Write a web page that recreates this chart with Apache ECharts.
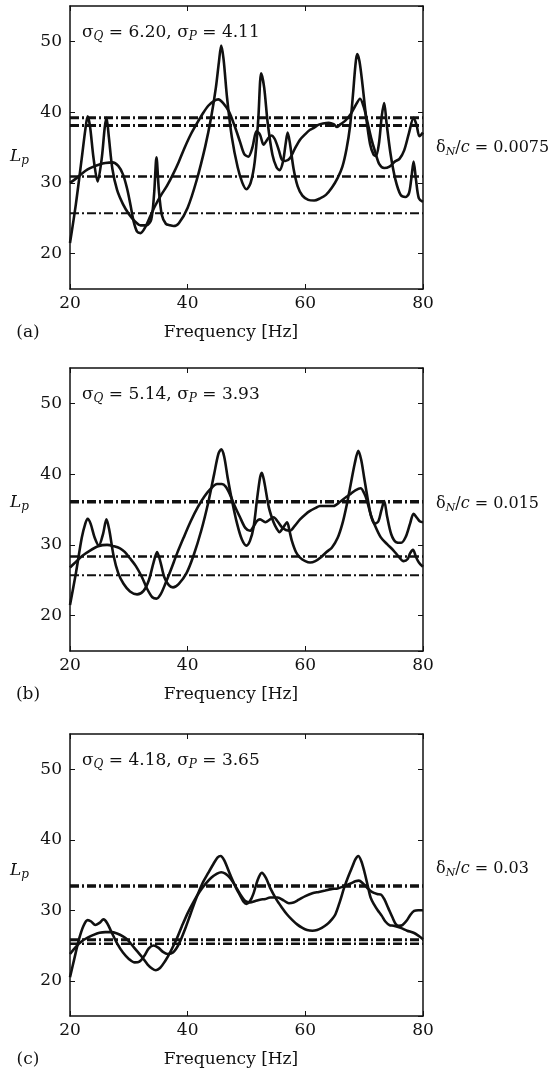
<!DOCTYPE html>
<html>
<head>
<meta charset="utf-8">
<script src="https://cdn.jsdelivr.net/npm/echarts@6/dist/echarts.min.js"></script>
<style>
html, body {margin:0; padding:0; background:#fff;}
#main {width:554px; height:1077px;}
</style>
</head>
<body>
<div id="main"></div>
<script>
// (a) delta_N/c = 0.0075
var curveA_a = [[20,21.5],[21,27],[22,33.5],[22.6,37.5],[23,39.4],[23.4,38],[24,33.5],[24.7,30.2],[25.4,33.5],[25.9,37.8],[26.2,39.2],[26.6,36.5],[27.2,32],[28,29],[29,27],[30,25.6],[31,24.6],[32,24],[33,24],[33.8,24.8],[34.3,28.5],[34.7,33.6],[35.1,29],[35.6,25.5],[36.3,24.2],[37,24],[37.6,23.9],[38.5,24.3],[40,26.5],[41.5,30.3],[43,35.2],[44,39.3],[44.8,43.5],[45.3,47],[45.7,49.4],[46.1,47.5],[46.7,42],[47.5,36.5],[48.5,32.2],[49.3,30],[50,29.1],[50.7,30],[51.4,33],[52,39],[52.5,45.5],[53,43.5],[53.6,38.5],[54.4,34],[55.1,32.2],[55.6,31.8],[56.2,33],[56.7,35.8],[57,37.1],[57.4,35.5],[58,32],[58.7,29.5],[59.5,28.2],[60.5,27.6],[61.5,27.5],[62.5,27.8],[63.5,28.3],[64.5,29.3],[65.5,30.7],[66.3,32.3],[67,34.8],[67.6,38],[68.1,42.5],[68.5,46.5],[68.8,48.2],[69.2,47.2],[69.7,44],[70.3,39.5],[71,35.5],[71.6,34],[72,33.8],[72.5,35.5],[73,39.5],[73.4,41.3],[73.8,38.5],[74.5,34],[75.3,30.5],[76.2,28.3],[77,28],[77.6,28.5],[78,30.5],[78.4,33],[78.8,30.5],[79.3,27.8],[80,27.3]];
var curveB_a = [[20,30],[21,30.6],[22,31.3],[23,31.9],[24,32.3],[25,32.6],[26,32.8],[27.2,32.9],[28.2,32.4],[29,31.2],[29.7,29.2],[30.3,26.8],[30.8,24.6],[31.4,23.1],[32,22.9],[32.7,23.6],[33.6,25.2],[34.5,26.8],[35.5,28.3],[36.5,29.6],[37.5,31.2],[38.5,33],[39.5,35],[40.5,36.8],[41.5,38.3],[42.5,39.7],[43.5,40.9],[44.5,41.6],[45.2,41.8],[46,41.3],[47,40.1],[48,38],[48.9,35.8],[49.6,34.1],[50.3,33.7],[51,35],[51.7,37.3],[52.3,36.8],[52.9,35.4],[53.6,36.2],[54.2,36.7],[54.8,36.2],[55.5,34.6],[56,33.3],[56.6,33.1],[57.4,33.5],[58.2,34.8],[59.1,36.1],[60,36.9],[60.8,37.5],[61.5,37.8],[62.2,38.2],[63,38.4],[64,38.5],[64.8,38.3],[65.4,37.9],[66,38.3],[66.8,38.8],[67.7,39.7],[68.5,40.9],[69.3,41.9],[69.9,40.8],[70.5,38.8],[71.2,36.3],[71.9,34.3],[72.6,32.6],[73.4,32.1],[74.3,32.3],[75.2,33],[76,33.4],[76.8,34.6],[77.6,37],[78.4,39.2],[78.9,38.2],[79.4,36.6],[80,37.1]];
var refLines_a = [39.2, 38.1, 30.9, 25.7];

// (b) delta_N/c = 0.015
var curveA_b = [[20,21.5],[21,26],[22,31],[22.6,33],[23,33.7],[23.5,33],[24.2,31],[24.9,29.9],[25.6,31.5],[26.2,33.6],[26.7,32],[27.4,28.5],[28.2,26],[29.1,24.5],[30.2,23.4],[31.4,23],[32.5,23.5],[33.4,25],[34.2,27.5],[34.8,29],[35.4,27.5],[36,25.5],[36.8,24.3],[37.5,24],[38.5,24.5],[39.8,26],[41,28.5],[42.3,32],[43.5,36],[44.5,40],[45.2,42.8],[45.7,43.5],[46.2,42.5],[46.8,39.5],[47.6,36],[48.4,33],[49.2,30.8],[50,29.9],[50.6,30.6],[51.2,32.5],[51.8,36.5],[52.3,39.5],[52.6,40.2],[53,39],[53.8,35.3],[54.6,33.2],[55.2,32.2],[55.6,31.8],[56.2,32.4],[56.9,33.2],[57.3,32],[57.7,30.6],[58.4,29],[59.1,28.2],[60,27.7],[60.8,27.5],[61.7,27.7],[62.6,28.2],[63.6,29],[64.5,29.6],[65.5,31],[66.3,33],[67,35.5],[67.7,38.5],[68.4,41.5],[69,43.3],[69.5,42],[70,39.5],[70.6,36.5],[71.2,34],[71.8,33],[72.4,33.3],[72.9,34.8],[73.4,36.2],[73.9,34],[74.6,31.5],[75.4,30.4],[76.3,30.3],[77.1,31.2],[77.8,33],[78.4,34.4],[79,33.8],[79.5,33.3],[80,33.2]];
var curveB_b = [[20,26.8],[21,27.6],[22,28.4],[23.4,29.2],[24.8,29.8],[26.3,30],[27.5,29.8],[28.5,29.5],[29.3,29],[30.2,28.1],[31.2,27],[32.2,25.5],[33.1,23.8],[34,22.6],[34.7,22.4],[35.4,23],[36.2,24.5],[37.2,26.6],[38.2,28.8],[39.3,31],[40.5,33.3],[41.7,35.3],[42.9,36.9],[44,38],[45,38.6],[45.8,38.6],[46.5,38.2],[47.2,37.1],[48,35.5],[48.9,33.9],[49.8,32.4],[50.6,32],[51.2,32.6],[51.8,33.4],[52.3,33.6],[53.2,33.2],[54,33.6],[54.6,33.9],[55.3,33.3],[56,32.5],[56.7,32.1],[57.4,32],[58.2,32.7],[59.1,33.6],[60,34.3],[60.8,34.8],[61.7,35.2],[62.5,35.5],[63.5,35.5],[64.8,35.5],[65.9,36.1],[67,36.8],[67.7,37.2],[68.5,37.7],[69.4,38],[70,37.3],[70.5,36.2],[71.1,34.3],[71.7,33],[72.8,31.1],[73.9,30.1],[75,29.2],[75.8,28.4],[76.7,27.7],[77.4,28],[77.8,28.8],[78.3,29.3],[78.8,28.3],[79.3,27.5],[80,26.9]];
var refLines_b = [36.1, 28.35, 25.7];

// (c) delta_N/c = 0.03
var curveA_c = [[20,20.5],[20.7,23],[21.5,25.8],[22.3,27.8],[23,28.6],[23.6,28.4],[24.3,27.9],[25,28.2],[25.7,28.7],[26.3,28.2],[27,27],[28,25.3],[29,24],[30,23.1],[31,22.6],[31.8,22.7],[32.6,23.5],[33.4,24.6],[34.2,25],[35,24.7],[35.8,24.1],[36.6,23.8],[37.5,24],[38.5,25.2],[39.5,27.2],[40.5,29.5],[41.5,31.8],[42.5,33.8],[43.5,35.3],[44.4,36.6],[45.1,37.5],[45.6,37.7],[46.2,37.1],[47.2,35.1],[48.2,33.2],[48.9,32.1],[49.5,31.2],[50,30.9],[50.6,31.3],[51.2,32.4],[51.9,34.3],[52.6,35.3],[53.3,34.6],[54,33.2],[55.1,31.5],[56,30.4],[56.9,29.4],[57.8,28.6],[58.6,28],[59.5,27.5],[60.3,27.2],[61.2,27.1],[62,27.2],[62.8,27.5],[63.7,28],[64.4,28.6],[65.1,29.4],[65.9,31.3],[66.6,33.2],[67.4,35],[68,36.2],[68.5,37.2],[69,37.7],[69.5,37],[70,35.6],[70.6,33.5],[71.1,31.8],[71.7,30.8],[72.3,30],[73,29.2],[73.6,28.4],[74.3,27.9],[75,27.8],[76.2,27.5],[77.3,27.1],[78.4,26.8],[79.2,26.4],[80,25.9]];
var curveB_c = [[20,23.8],[21,24.8],[22,25.6],[23,26.1],[24,26.5],[25,26.8],[26,26.9],[27,26.9],[28,26.7],[29,26.3],[29.8,25.8],[30.6,25],[31.4,24.2],[32.3,23.3],[33.2,22.3],[34,21.7],[34.6,21.5],[35.3,21.8],[36.1,22.7],[37,24],[38,25.7],[39,27.7],[40,29.6],[41,31.2],[42,32.6],[43,33.7],[44,34.6],[45,35.2],[45.7,35.4],[46.4,35.2],[47.2,34.6],[48,33.6],[48.9,32.3],[49.8,31.3],[50.6,31.1],[51.5,31.3],[52.3,31.5],[53.2,31.6],[54,31.8],[55.3,31.8],[56.3,31.4],[57.2,31],[58,31.1],[58.9,31.5],[60,32],[61.2,32.4],[62.3,32.6],[63.4,32.8],[64.4,33],[65.5,33.1],[66.5,33.4],[67.7,33.8],[68.5,34.1],[69.1,34.2],[69.8,33.8],[70.5,33.2],[71.3,32.6],[72.2,32.3],[72.9,32.2],[73.4,31.6],[74.1,30.3],[74.8,29],[75.4,28],[75.9,27.8],[76.5,27.9],[77.2,28.5],[77.9,29.4],[78.5,29.9],[79.2,30],[80,30]];
var refLines_c = [33.45, 25.8, 25.25];

var sigmaQ = ['6.20', '5.14', '4.18'];
var sigmaP = ['4.11', '3.93', '3.65'];
var deltaN = ['0.0075', '0.015', '0.03'];
var panelTags = ['(a)', '(b)', '(c)'];

var curvesA = [curveA_a, curveA_b, curveA_c];
var curvesB = [curveB_a, curveB_b, curveB_c];
var refLines = [refLines_a, refLines_b, refLines_c];
// line widths of the dash-dot levels, thick ones on top
var refWidths = [[3, 3, 2.5, 2], [3.5, 2.5, 2], [3.5, 3, 2.5]];

var gridTop = [6, 368, 734];
var gridH = [283, 283, 282];
var lpY = [146, 492, 860];      // top of the L_p label
var deltaY = [138, 494, 859];   // top of the delta label
var INK = '#111';
var FONT = 'DejaVu Serif';

var myChart = echarts.init(document.getElementById('main'));

var grids = [], xAxes = [], yAxes = [], series = [], graphics = [], titles = [];

var rich = {
    it: {fontFamily: FONT, fontStyle: 'italic', fontSize: 17, color: INK},
    sub: {fontFamily: FONT, fontStyle: 'italic', fontSize: 12, color: INK, padding: [9, 0, 0, 0]}
};
var richSmall = {
    it: {fontFamily: FONT, fontStyle: 'italic', fontSize: 16, color: INK},
    sub: {fontFamily: FONT, fontStyle: 'italic', fontSize: 11, color: INK, padding: [9, 0, 0, 0]}
};
var txt = {fontFamily: FONT, fontSize: 17, fontWeight: 'normal', color: INK, rich: rich};
var txtSmall = {fontFamily: FONT, fontSize: 16, fontWeight: 'normal', color: INK, rich: richSmall};

for (var g = 0; g < 3; g++) {
    grids.push({left: 70, width: 353, top: gridTop[g], height: gridH[g], containLabel: false});

    var lineSt = {show: true, onZero: false, lineStyle: {color: INK, width: 1.5}};
    var tickSt = {show: true, inside: true, length: 5, lineStyle: {color: INK, width: 1}};

    xAxes.push({
        gridIndex: g, type: 'value', position: 'bottom', min: 20, max: 80, interval: 20,
        axisLine: lineSt, axisTick: tickSt, splitLine: {show: false},
        axisLabel: {color: INK, fontFamily: FONT, fontSize: 17, margin: 6}
    });
    xAxes.push({
        gridIndex: g, type: 'value', position: 'top', min: 20, max: 80, interval: 20,
        axisLine: lineSt, axisTick: tickSt, splitLine: {show: false}, axisLabel: {show: false}
    });
    yAxes.push({
        gridIndex: g, type: 'value', position: 'left', min: 15, max: 55, splitNumber: 4,
        axisLine: lineSt, axisTick: tickSt, splitLine: {show: false},
        axisLabel: {color: INK, fontFamily: FONT, fontSize: 17, margin: 8, showMinLabel: false, showMaxLabel: false}
    });
    yAxes.push({
        gridIndex: g, type: 'value', position: 'right', min: 15, max: 55, splitNumber: 4,
        axisLine: lineSt, axisTick: tickSt, splitLine: {show: false}, axisLabel: {show: false}
    });

    for (var k = 0; k < refLines[g].length; k++) {
        series.push({
            type: 'line', xAxisIndex: g * 2, yAxisIndex: g * 2,
            data: [[20, refLines[g][k]], [80, refLines[g][k]]],
            symbol: 'none', silent: true, z: 2,
            lineStyle: {color: INK, width: refWidths[g][k], type: [9, 3, 2, 3], cap: 'butt'}
        });
    }
    [curvesA[g], curvesB[g]].forEach(function (d) {
        series.push({
            type: 'line', xAxisIndex: g * 2, yAxisIndex: g * 2, data: d,
            symbol: 'none', showSymbol: false, smooth: 0.3, silent: true, z: 3,
            lineStyle: {color: INK, width: 2.6}
        });
    });

    titles.push({
        text: 'σ{sub|Q} = ' + sigmaQ[g] + ', σ{sub|P} = ' + sigmaP[g],
        left: 82, top: gridTop[g] + 16, padding: 0, textStyle: txt
    });
    titles.push({text: '{it|L}{sub|p}', left: 10, top: lpY[g], padding: 0, textStyle: txt});
    titles.push({
        text: 'δ{sub|N}/{it|c} = ' + deltaN[g],
        left: 436, top: deltaY[g], padding: 0, textStyle: txtSmall
    });

    var bottom = gridTop[g] + gridH[g];
    graphics.push({
        type: 'text', x: 231, y: bottom + 44, z: 10,
        style: {text: 'Frequency [Hz]', font: '17px "' + FONT + '"', fill: INK,
            align: 'center', verticalAlign: 'middle'}
    });
    graphics.push({
        type: 'text', x: 28, y: bottom + 44, z: 10,
        style: {text: panelTags[g], font: '17px "' + FONT + '"', fill: INK,
            align: 'center', verticalAlign: 'middle'}
    });
}

var option = {
    animation: false,
    backgroundColor: '#fff',
    title: titles,
    grid: grids,
    xAxis: xAxes,
    yAxis: yAxes,
    series: series,
    graphic: graphics
};

myChart.setOption(option);
window.onresize = myChart.resize;
</script>
</body>
</html>
